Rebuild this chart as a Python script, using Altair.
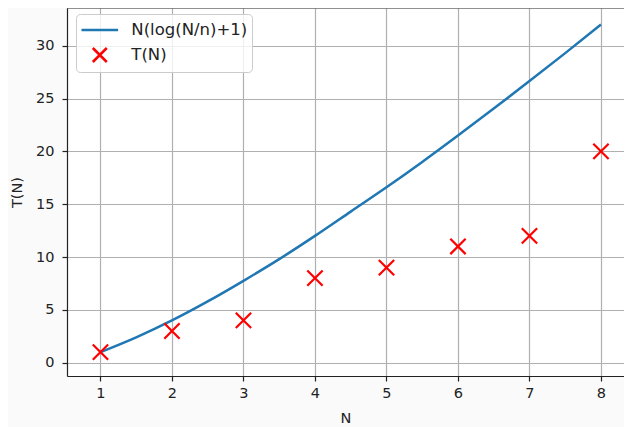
import altair as alt
import pandas as pd

line_label = "N(log(N/n)+1)"
scatter_label = "T(N)"

line_N = [1, 1.5, 2, 2.5, 3, 3.5, 4, 4.5, 5, 5.5, 6, 6.5, 7, 7.5, 8]
line_T = [1.0, 2.4, 4.0, 5.8, 7.75, 9.8, 12.0, 14.3, 16.6, 19.0, 21.5, 24.05, 26.65, 29.3, 32.0]

pts_N = [1, 2, 3, 4, 5, 6, 7, 8]
pts_T = [1, 3, 4, 8, 9, 11, 12, 20]

x_ticks = [1, 2, 3, 4, 5, 6, 7, 8]
y_ticks = [0, 5, 10, 15, 20, 25, 30]

W, H = 557, 368
FONT = "DejaVu Sans"

line_df = pd.DataFrame({"N": line_N, "T": line_T, "series": line_label})
pts_df = pd.DataFrame({"N": pts_N, "T": pts_T, "series": scatter_label})

LINE_PATH = "M-1.83,0L1.83,0"
X_PATH = "M-0.7,-0.7L0.7,0.7M-0.7,0.7L0.7,-0.7"

domain = [line_label, scatter_label]
color_scale = alt.Scale(domain=domain, range=["#1f77b4", "#ff0000"])
shape_scale = alt.Scale(domain=domain, range=[LINE_PATH, X_PATH])

x_enc = alt.X("N:Q", scale=alt.Scale(domain=[0.532, 8.322], nice=False, zero=False),
              axis=alt.Axis(values=x_ticks, title="N", format="d"))
y_enc = alt.Y("T:Q", scale=alt.Scale(domain=[-1.26, 33.57], nice=False, zero=False),
              axis=alt.Axis(values=y_ticks, title="T(N)", format="d"))

legend = alt.Legend(title=None, orient="none", legendX=9, legendY=6,
                    fillColor="rgba(255,255,255,0.8)", strokeColor="#cccccc",
                    cornerRadius=4, padding=4.5, symbolSize=400, symbolStrokeWidth=2.5,
                    symbolOffset=7.8, labelOffset=20, rowPadding=4,
                    labelFontSize=16.5, labelFont=FONT, labelColor="#222222",
                    symbolFillColor="transparent")

line = alt.Chart(line_df).mark_line(strokeWidth=2.5, interpolate="monotone").encode(
    x=x_enc, y=y_enc,
    color=alt.Color("series:N", scale=color_scale, legend=legend),
)

pts = alt.Chart(pts_df).mark_point(filled=False, strokeWidth=2.2, size=480, opacity=1).encode(
    x=x_enc, y=y_enc,
    color=alt.Color("series:N", scale=color_scale, legend=legend),
    shape=alt.Shape("series:N", scale=shape_scale, legend=legend),
)

top_spine = alt.Chart(pd.DataFrame({"a": [0]})).mark_rule(color="#222222", strokeWidth=1.2).encode(
    y=alt.value(0), x=alt.value(0), x2=alt.value(W)
)

chart = alt.layer(line, pts, top_spine).properties(
    width=W, height=H,
    autosize=alt.AutoSizeParams(type="none"),
    padding={"left": 59, "top": 0, "right": 0, "bottom": 51},
    background="#fafafa",
).configure_view(stroke=None, fill="white").configure_axis(
    labelFont=FONT, labelFontSize=14.5, labelColor="#222222",
    titleFont=FONT, titleFontSize=14.5, titleFontWeight="normal", titleColor="#222222",
    tickSize=5, tickColor="#222222", tickWidth=1.2,
    domainColor="#222222", domainWidth=1.2,
    grid=True, gridColor="#b0b0b0", gridWidth=1.2,
).configure_axisX(labelPadding=5, titlePadding=12).configure_axisY(labelPadding=8, titlePadding=11)

chart.save("out.html", embed_options={"renderer": "svg", "actions": False})
